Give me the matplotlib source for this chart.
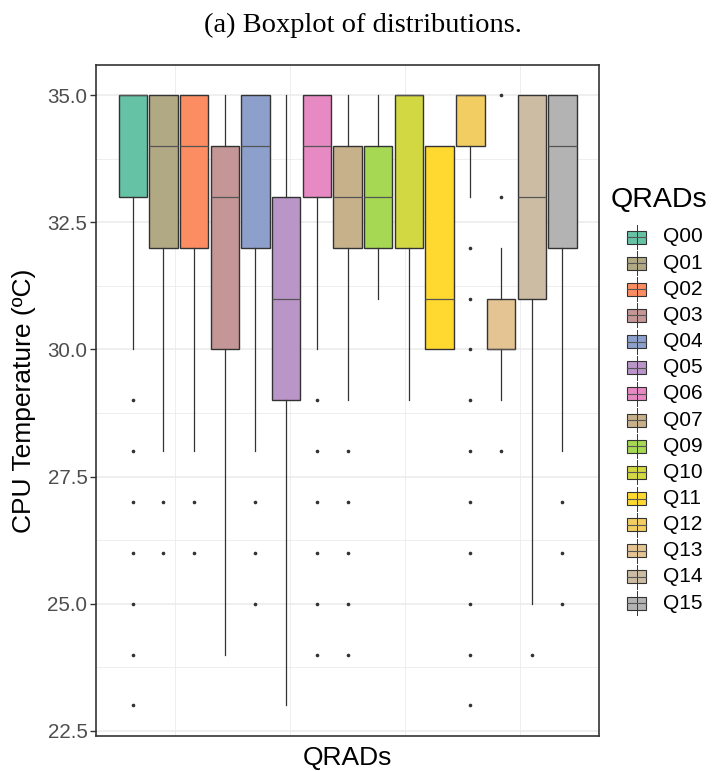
import numpy as np
import matplotlib.pyplot as plt
from matplotlib.colors import to_rgb, to_hex

plt.rcParams['font.family'] = ['Liberation Sans', 'DejaVu Sans']

# Box statistics (CPU temperature, ºC)
qrads = ['Q00', 'Q01', 'Q02', 'Q03', 'Q04', 'Q05', 'Q06', 'Q07',
         'Q09', 'Q10', 'Q11', 'Q12', 'Q13', 'Q14', 'Q15']
q1 = [33, 32, 32, 30, 32, 29, 33, 32, 32, 32, 30, 34, 30, 31, 32]
med = [35, 34, 34, 33, 34, 31, 34, 33, 33, 35, 31, 35, 30, 33, 34]
q3 = [35, 35, 35, 34, 35, 33, 35, 34, 34, 35, 34, 35, 31, 35, 35]
whis_lo = [30, 28, 28, 24, 28, 23, 30, 29, 31, 29, 30, 33, 29, 25, 28]
whis_hi = [35, 35, 35, 35, 35, 35, 35, 35, 35, 35, 34, 35, 32, 35, 35]
outliers = [
    [29, 28, 27, 26, 25, 24, 23],
    [27, 26],
    [27, 26],
    [],
    [27, 26, 25],
    [],
    [29, 28, 27, 26, 25, 24],
    [28, 27, 26, 25, 24],
    [],
    [],
    [],
    [32, 31, 30, 29, 28, 27, 26, 25, 24, 23],
    [35, 33, 28],
    [24],
    [27, 26, 25],
]

# colorRampPalette(Set2)(15)
set2 = ['#66C2A5', '#FC8D62', '#8DA0CB', '#E78AC3',
        '#A6D854', '#FFD92F', '#E5C494', '#B3B3B3']
base = np.array([to_rgb(c) for c in set2])
t = np.linspace(0, len(set2) - 1, len(qrads))
colors = [to_hex([np.interp(v, np.arange(len(set2)), base[:, k]) for k in range(3)])
          for v in t]

line_col = '#333333'

fig = plt.figure(figsize=(7.18, 7.71), dpi=100)
ax = fig.add_axes([0.1344, 0.0454, 0.6994, 0.8707])

stats = []
for i in range(len(qrads)):
    stats.append(dict(q1=q1[i], med=med[i], q3=q3[i], whislo=whis_lo[i],
                      whishi=whis_hi[i], fliers=outliers[i], label=qrads[i]))

bp = ax.bxp(stats, positions=np.arange(len(qrads)), widths=0.925,
            patch_artist=True, showcaps=False,
            boxprops=dict(edgecolor=line_col, linewidth=1.0),
            medianprops=dict(color='#555555', linewidth=0.9),
            whiskerprops=dict(color=line_col, linewidth=0.9),
            flierprops=dict(marker='o', markersize=1.6, markerfacecolor=line_col,
                            markeredgecolor=line_col, linestyle='none'))
for patch, c in zip(bp['boxes'], colors):
    patch.set_facecolor(c)

ax.set_xlim(-1.18, 15.18)
ax.set_ylim(22.4, 35.6)
ax.set_yticks([22.5, 25.0, 27.5, 30.0, 32.5, 35.0])
ax.set_yticks([23.75, 26.25, 28.75, 31.25, 33.75], minor=True)
ax.set_yticklabels(['22.5', '25.0', '27.5', '30.0', '32.5', '35.0'])
ax.set_xticks([1.37, 5.13, 8.87, 12.63])
ax.set_xticklabels([])
ax.tick_params(axis='x', length=0)
ax.tick_params(axis='y', which='major', length=4.5, width=1.0, color=line_col,
               labelsize=14.8, labelcolor='#4D4D4D', pad=2)
ax.tick_params(axis='y', which='minor', length=0)
ax.grid(which='major', axis='y', color='#EBEBEB', linewidth=1.1)
ax.grid(which='minor', axis='y', color='#EBEBEB', linewidth=0.6)
ax.grid(which='major', axis='x', color='#EBEBEB', linewidth=0.6)
ax.set_axisbelow(True)
for s in ax.spines.values():
    s.set_color(line_col)
    s.set_linewidth(1.2)

ax.set_ylabel('CPU Temperature (ºC)', fontsize=19, labelpad=8)
ax.set_xlabel('QRADs', fontsize=19, labelpad=4)

fig.text(0.5056, 0.967, '(a) Boxplot of distributions.', ha='center', va='center',
         fontsize=20.5, family='Liberation Serif')

# legend drawn in pixel space on an overlay axes
lg = fig.add_axes([0, 0, 1, 1])
lg.set_xlim(0, 718)
lg.set_ylim(771, 0)
lg.axis('off')
lg.text(611, 200, 'QRADs', fontsize=20.5, va='center', ha='left')
for i, (name, c) in enumerate(zip(qrads, colors)):
    yc = 237 + i * 26.15
    lg.plot([636.5, 636.5], [yc - 12, yc + 12], color=line_col, lw=0.7)
    lg.add_patch(plt.Rectangle((627, yc - 6.5), 19, 13, facecolor=c,
                               edgecolor=line_col, lw=0.8))
    lg.plot([627, 646], [yc, yc], color='#555555', lw=0.8)
    lg.text(663, yc, name, fontsize=15, va='center', ha='left')

fig.savefig('out.png', dpi=100)
